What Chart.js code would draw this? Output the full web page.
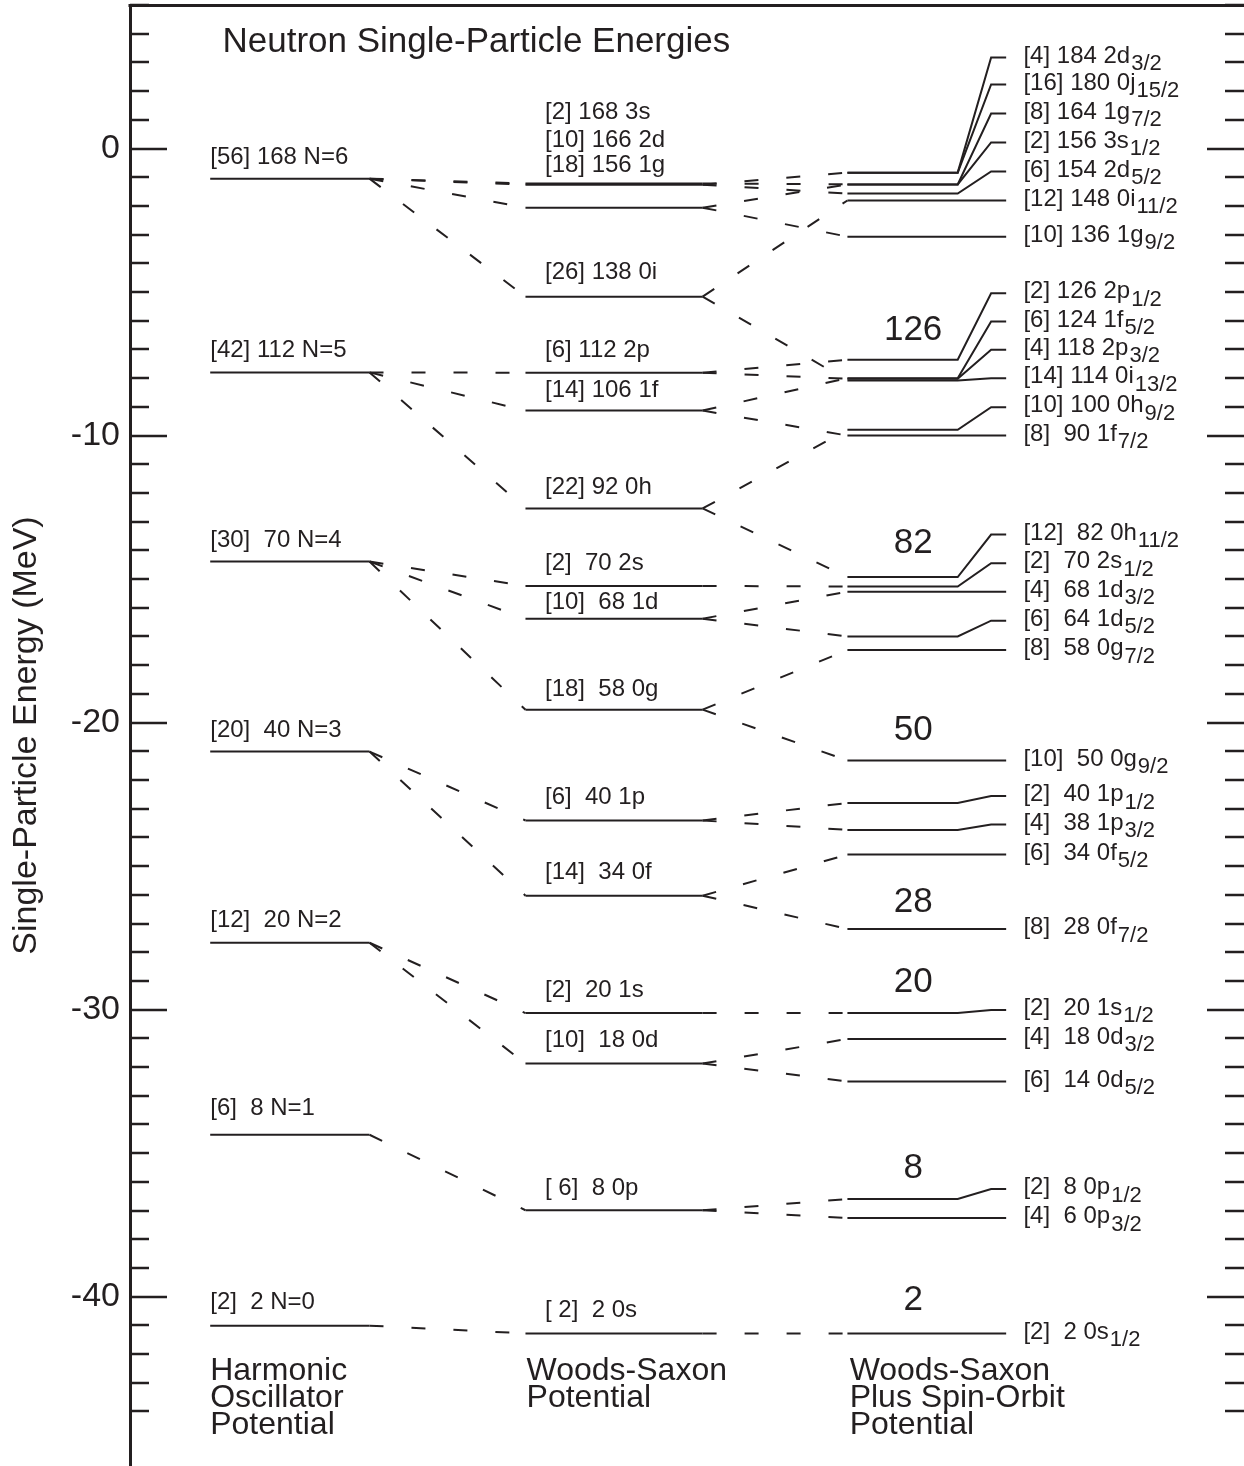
<!DOCTYPE html>
<html>
<head>
<meta charset="utf-8">
<script src="https://cdn.jsdelivr.net/npm/chart.js@4.4.1/dist/chart.umd.min.js"></script>
<style>
  html, body { margin: 0; padding: 0; background: #fff; overflow: hidden; }
  canvas { display: block; }
</style>
</head>
<body>
<canvas id="levels" width="1244" height="1466"></canvas>
<script>
const INK = '#231f20';
const FONT = '"Liberation Sans", Arial, Helvetica, sans-serif';

// harmonic oscillator shells (MeV)
const hoLabels = ['[56] 168 N=6', '[42] 112 N=5', '[30]  70 N=4', '[20]  40 N=3', '[12]  20 N=2', '[6]  8 N=1', '[2]  2 N=0'];
const hoE = [-1.05, -7.8, -14.39, -21.01, -27.67, -34.36, -41.01];
const hoLabelE = [-0.31, -7.04, -13.66, -20.28, -26.9, -33.45, -40.21];

// Woods-Saxon levels
const wsLabels = ['[2] 168 3s', '[10] 166 2d', '[18] 156 1g', '[26] 138 0i', '[6] 112 2p', '[14] 106 1f', '[22] 92 0h',
  '[2]  70 2s', '[10]  68 1d', '[18]  58 0g', '[6]  40 1p', '[14]  34 0f', '[2]  20 1s', '[10]  18 0d', '[ 6]  8 0p', '[ 2]  2 0s'];
const wsE = [-1.22, -1.26, -2.06, -5.16, -7.81, -9.13, -12.54, -15.24, -16.38, -19.55, -23.41, -26.03, -30.12, -31.88, -36.99, -41.28];
const wsLabelE = [1.25, 0.28, -0.59, -4.32, -7.04, -8.43, -11.81, -14.46, -15.82, -18.85, -22.61, -25.23, -29.34, -31.08, -36.24, -40.49];
const wsFrom = [0, 0, 0, 0, 1, 1, 1, 2, 2, 2, 3, 3, 4, 4, 5, 6];

// Woods-Saxon plus spin-orbit levels
const soLabels = ['[4] 184 2d', '[16] 180 0j', '[8] 164 1g', '[2] 156 3s', '[6] 154 2d', '[12] 148 0i', '[10] 136 1g',
  '[2] 126 2p', '[6] 124 1f', '[4] 118 2p', '[14] 114 0i', '[10] 100 0h', '[8]  90 1f',
  '[12]  82 0h', '[2]  70 2s', '[4]  68 1d', '[6]  64 1d', '[8]  58 0g', '[10]  50 0g',
  '[2]  40 1p', '[4]  38 1p', '[6]  34 0f', '[8]  28 0f', '[2]  20 1s', '[4]  18 0d', '[6]  14 0d',
  '[2]  8 0p', '[4]  6 0p', '[2]  2 0s'];
const soSub = ['3/2', '15/2', '7/2', '1/2', '5/2', '11/2', '9/2', '1/2', '5/2', '3/2', '13/2', '9/2', '7/2',
  '11/2', '1/2', '3/2', '5/2', '7/2', '9/2', '1/2', '3/2', '5/2', '7/2', '1/2', '3/2', '5/2', '1/2', '3/2', '1/2'];
const soE = [-0.84, -0.84, -1.25, -1.25, -1.57, -1.81, -3.07, -7.36, -8.0, -8.02, -8.08, -9.8, -10.0,
  -14.93, -15.26, -15.44, -17.0, -17.47, -21.32, -22.8, -23.74, -24.6, -27.19, -30.12, -31.02, -32.5,
  -36.6, -37.26, -41.28];
const soEndE = [3.17, 2.23, 1.22, 0.21, -0.8, -1.81, -3.07, -5.04, -6.03, -7.01, -8.0, -9.01, -10.0,
  -13.45, -14.45, -15.44, -16.45, -17.47, -21.32, -22.56, -23.55, -24.6, -27.19, -30.01, -31.02, -32.5,
  -36.25, -37.26, -41.28];
const soFrom = [1, -1, 2, 0, 1, 3, 2, 4, 5, 4, 3, 6, 5, 6, 7, 8, 8, 9, 9, 10, 10, 11, 11, 12, 13, 13, 14, 14, 15];

// magic numbers
const magic = ['126', '82', '50', '28', '20', '8', '2'];
const magicE = [-6.34, -13.76, -20.28, -26.27, -29.06, -35.54, -40.14];

const colNames = [['Harmonic', 'Oscillator', 'Potential'], ['Woods-Saxon', 'Potential'], ['Woods-Saxon', 'Plus Spin-Orbit', 'Potential']];

// horizontal layout (x axis runs 0..100, hidden)
const X = { hoStart: 7.2, hoEnd: 21.5, wsStart: 35.5, wsEnd: 51.4, soStart: 64.4, soBend: 74.3, soKnee: 77.3, soEnd: 78.65,
  hoText: 7.2, wsText: 37.25, soText: 80.2, magic: 70.3, title: 8.3 };
const colNameX = [7.2, 35.6, 64.6];

function solid(pts) {
  return { data: pts, showLine: true, borderColor: INK, borderWidth: 2, pointRadius: 0, fill: false, tension: 0 };
}
function dashed(pts) {
  const d = solid(pts);
  d.borderDash = [14, 28];
  return d;
}

const datasets = [];
hoE.forEach(e => datasets.push(solid([{x: X.hoStart, y: e}, {x: X.hoEnd, y: e}])));
wsE.forEach((e, i) => {
  datasets.push(solid([{x: X.wsStart, y: e}, {x: X.wsEnd, y: e}]));
  datasets.push(dashed([{x: X.hoEnd, y: hoE[wsFrom[i]]}, {x: X.wsStart, y: e}]));
});
soE.forEach((e, i) => {
  datasets.push(solid([{x: X.soStart, y: e}, {x: X.soBend, y: e}, {x: X.soKnee, y: soEndE[i]}, {x: X.soEnd, y: soEndE[i]}]));
  if (soFrom[i] >= 0) {
    datasets.push(dashed([{x: X.wsEnd, y: wsE[soFrom[i]]}, {x: X.soStart, y: e}]));
  }
});

const annotate = {
  id: 'annotate',
  afterDraw(chart) {
    const {ctx, chartArea: a, scales: {x, y}} = chart;
    ctx.save();
    ctx.strokeStyle = INK;
    ctx.fillStyle = INK;

    // top frame line and inward ticks on both sides
    ctx.lineWidth = 3;
    ctx.beginPath();
    ctx.moveTo(a.left - 1.5, a.top + 0.5);
    ctx.lineTo(a.right, a.top + 0.5);
    ctx.stroke();
    ctx.lineWidth = 2.5;
    y.ticks.forEach(t => {
      if (Math.abs(t.value - Math.round(t.value)) > 1e-6) return;
      const py = Math.round(y.getPixelForValue(t.value));
      const len = Math.round(t.value) % 10 === 0 ? 37 : 19;
      ctx.beginPath();
      ctx.moveTo(a.left, py);
      ctx.lineTo(a.left + len, py);
      ctx.moveTo(a.right - len, py);
      ctx.lineTo(a.right, py);
      ctx.stroke();
    });

    const put = (s, xv, py, size, align) => {
      ctx.font = size + 'px ' + FONT;
      ctx.textAlign = align || 'left';
      ctx.textBaseline = 'middle';
      ctx.fillText(s, x.getPixelForValue(xv), py);
    };

    put('Neutron Single-Particle Energies', X.title, y.getPixelForValue(3.69), 35);

    hoLabels.forEach((s, i) => put(s, X.hoText, y.getPixelForValue(hoLabelE[i]), 24));
    wsLabels.forEach((s, i) => put(s, X.wsText, y.getPixelForValue(wsLabelE[i]), 24));

    soLabels.forEach((s, i) => {
      const py = y.getPixelForValue(soEndE[i]) - 1.5;
      put(s, X.soText, py, 24);
      const w = ctx.measureText(s).width;
      ctx.font = '22px ' + FONT;
      ctx.fillText(soSub[i], x.getPixelForValue(X.soText) + w + 1, py + 8);
    });

    magic.forEach((s, i) => put(s, X.magic, y.getPixelForValue(magicE[i]), 35, 'center'));

    colNames.forEach((lines, c) => {
      const base = y.getPixelForValue(-42.58);
      lines.forEach((s, k) => put(s, colNameX[c], base + 27 * k, 32));
    });

    ctx.restore();
  }
};

new Chart(document.getElementById('levels'), {
  type: 'scatter',
  data: { datasets: datasets },
  options: {
    responsive: false,
    animation: false,
    events: [],
    devicePixelRatio: 1,
    layout: { padding: { top: 5, right: 0, bottom: 0, left: 0 } },
    plugins: { legend: { display: false }, tooltip: { enabled: false } },
    scales: {
      x: { type: 'linear', min: 0, max: 100, display: false },
      y: {
        type: 'linear',
        min: -45.9,
        max: 5,
        afterFit(scale) {
          scale.width = 130;
          scale.paddingTop = 0;
          scale.paddingBottom = 0;
        },
        grid: { display: false, drawTicks: false },
        border: { display: true, width: 3, color: INK },
        ticks: {
          stepSize: 1,
          autoSkip: false,
          padding: 10,
          color: INK,
          font: { family: FONT, size: 34 },
          callback: v => (Math.abs(v % 10) < 1e-6 ? String(v) : '')
        },
        title: {
          display: true,
          text: 'Single-Particle Energy (MeV)',
          color: INK,
          font: { family: FONT, size: 34 },
          padding: { top: 6, bottom: 0 }
        }
      }
    }
  },
  plugins: [annotate]
});
</script>
</body>
</html>
